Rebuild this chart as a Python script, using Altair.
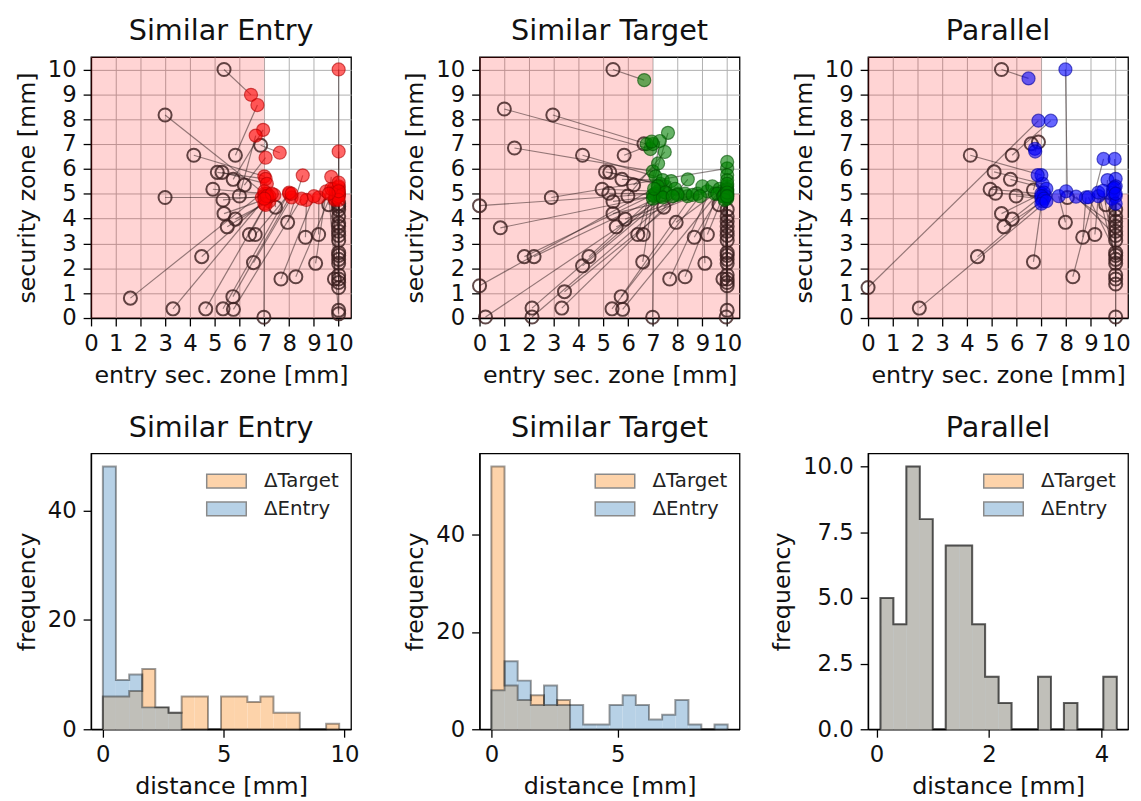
import altair as alt
import pandas as pd

FONT = "DejaVu Sans"

# ---------------- top row: security zones (original -> optimised) ----------------
AX_MAX = 10.5
ENTRY_LIMIT = 7.0
SEC_LIMIT = 5.0
GRID_TICKS = [0, 1, 2, 3, 4, 5, 6, 7, 8, 9, 10]

SE_orig_x = [5.37, 5.83, 2.99, 4.15, 2.99, 5.10, 5.29, 5.74, 6.19, 4.92, 5.33, 5.99, 5.37, 5.83, 5.50, 6.40, 6.63, 7.45, 7.94, 4.47,
             6.56, 8.66, 9.19, 9.07, 7.67, 8.27, 1.59, 3.31, 4.63, 5.33, 5.75, 5.73, 6.98, 9.60, 6.85, 9.83,
             10.0, 10.0, 10.0, 10.0, 10.0, 10.0, 10.0, 10.0, 10.0, 10.0, 10.0, 10.0, 10.0, 10.0, 10.0, 10.0, 10.0, 10.0, 10.0]
SE_orig_y = [10.0, 6.55, 8.17, 6.55, 4.85, 5.86, 5.86, 5.58, 5.35, 5.18, 4.75, 4.91, 4.20, 3.98, 3.67, 3.36, 3.36, 4.46, 3.85, 2.47,
             2.23, 3.25, 3.36, 2.20, 1.57, 1.66, 0.80, 0.37, 0.37, 0.37, 0.35, 0.86, 0.03, 4.56, 6.95, 1.57,
             4.36, 4.09, 3.82, 3.69, 3.49, 3.32, 3.12, 2.63, 2.52, 2.36, 2.20, 1.73, 1.57, 1.43, 1.23, 0.31, 0.17, 4.60, 4.50]
SE_opt_x = [6.46, 6.72, 7.00, 7.00, 6.90, 7.05, 7.10, 6.95, 7.05, 7.10, 7.00, 6.65, 7.10, 7.20, 7.00, 7.05, 8.00, 7.40, 8.55, 7.20,
            8.10, 8.70, 9.20, 9.50, 9.00, 9.80, 7.00, 7.10, 7.30, 8.00, 8.50, 8.10, 7.00, 9.70, 7.62, 9.85,
            10.0, 9.90, 10.0, 10.0, 9.85, 10.0, 10.0, 10.0, 9.90, 10.0, 10.0, 10.0, 9.70, 10.0, 10.0, 10.0, 9.60, 10.0, 10.0]
SE_opt_y = [8.98, 8.57, 5.00, 5.70, 4.85, 5.60, 5.40, 7.57, 6.45, 5.00, 4.90, 7.34, 4.80, 4.70, 4.60, 4.55, 5.00, 4.95, 5.74, 4.90,
            4.85, 4.75, 4.85, 5.10, 4.90, 5.20, 5.10, 4.90, 5.00, 5.05, 4.80, 5.00, 4.80, 5.68, 6.65, 4.75,
            5.00, 5.10, 4.90, 5.25, 4.80, 5.05, 4.95, 5.15, 4.85, 5.30, 5.00, 4.90, 5.20, 5.45, 4.75, 5.10, 5.00, 10.0, 6.70]

ST_orig_x = [5.39, 1.00, 2.96, 1.41, 4.16, 5.84, 5.09, 5.26, 5.75, 6.22, 4.95, 2.90, 0.00, 5.22, 5.39, 5.99, 5.39, 5.88, 5.52, 6.39,
             6.61, 0.84, 7.44, 7.94, 8.67, 9.20, 1.81, 2.20, 4.42, 4.16, 6.59, 9.10, 7.68, 8.30, 0.00, 3.43, 5.72, 2.12, 3.32, 5.35,
             5.78, 0.24, 6.99, 2.12, 9.67, 9.96, 6.64, 9.83,
             10.0, 10.0, 10.0, 10.0, 10.0, 10.0, 10.0, 10.0, 10.0, 10.0, 10.0, 10.0, 10.0, 10.0, 10.0, 10.0]
ST_orig_y = [10.0, 8.41, 8.17, 6.84, 6.55, 6.55, 5.88, 5.86, 5.58, 5.35, 5.18, 4.85, 4.52, 5.02, 4.69, 4.91, 4.20, 3.98, 3.67, 3.36,
             3.36, 3.63, 4.46, 3.85, 3.25, 3.36, 2.47, 2.47, 2.47, 2.10, 2.26, 2.20, 1.57, 1.66, 1.30, 1.06, 0.86, 0.40, 0.40, 0.37,
             0.35, 0.04, 0.03, 0.04, 4.56, 0.04, 7.01, 1.57,
             4.36, 4.09, 3.89, 3.69, 3.49, 3.32, 3.12, 2.63, 2.52, 2.36, 2.20, 1.73, 1.57, 1.43, 1.30, 0.31]
ST_opt_x = [6.65, 6.90, 6.75, 7.00, 7.10, 7.00, 7.30, 7.50, 7.40, 7.21, 7.20, 10.0, 7.10, 7.60, 8.00, 7.48, 8.40, 8.80, 9.20, 7.61,
            7.28, 7.05, 8.41, 9.50, 9.80, 10.0, 7.00, 7.30, 7.74, 7.90, 7.00, 9.00, 9.40, 9.70, 7.20, 8.30, 8.60, 7.50, 8.00, 8.90,
            9.60, 7.40, 7.05, 7.80, 10.0, 10.0, 6.95, 9.85,
            10.0, 10.0, 10.0, 10.0, 10.0, 10.0, 10.0, 9.90, 10.0, 10.0, 10.0, 9.85, 10.0, 9.90, 10.0, 10.0]
ST_opt_y = [9.57, 6.80, 7.00, 5.90, 5.70, 7.00, 5.40, 5.30, 5.55, 6.22, 5.10, 6.02, 5.00, 5.00, 5.00, 6.68, 4.90, 5.00, 5.10, 7.45,
            7.12, 4.90, 5.58, 5.00, 5.10, 5.30, 4.95, 4.90, 5.51, 5.20, 4.80, 5.30, 5.30, 5.20, 5.30, 5.00, 4.95, 5.05, 4.95, 4.90,
            5.00, 4.85, 5.20, 4.90, 6.28, 5.00, 7.10, 4.90,
            5.75, 5.55, 5.20, 5.00, 4.90, 5.10, 4.80, 5.00, 5.15, 4.95, 4.85, 4.90, 5.40, 4.75, 5.05, 4.90]

PA_orig_x = [5.39, 0.00, 5.82, 6.59, 6.88, 4.13, 5.09, 5.75, 4.93, 5.15, 5.98, 6.68, 5.39, 5.82, 5.49, 4.42, 6.68, 7.97, 8.05, 8.67,
             9.16, 8.27, 2.07, 9.60,
             10.0, 10.0, 10.0, 10.0, 10.0, 10.0, 10.0, 10.0, 10.0, 10.0, 10.0, 10.0, 10.0, 10.0, 10.0]
PA_orig_y = [10.0, 1.23, 6.55, 7.01, 7.08, 6.55, 5.88, 5.58, 5.18, 5.02, 4.91, 5.15, 4.20, 3.98, 3.67, 2.47, 2.26, 3.85, 4.85, 3.25,
             3.36, 1.66, 0.40, 4.56,
             4.36, 4.09, 3.89, 3.69, 3.49, 3.32, 3.12, 2.63, 2.52, 2.36, 2.20, 1.73, 1.57, 1.37, 0.04]
PA_opt_x = [6.48, 6.88, 7.38, 6.74, 6.75, 7.00, 7.05, 7.20, 7.00, 7.15, 7.00, 6.85, 7.10, 7.00, 7.05, 7.10, 7.00, 7.70, 7.97, 8.80,
            9.30, 9.51, 7.20, 9.67,
            9.96, 10.0, 10.0, 8.00, 10.0, 8.40, 9.90, 8.90, 9.85, 9.30, 9.50, 9.90, 10.0, 9.95, 10.0]
PA_opt_y = [9.64, 7.94, 7.94, 6.81, 6.70, 5.75, 5.40, 5.20, 5.00, 4.90, 4.80, 5.75, 5.05, 4.90, 4.70, 4.80, 4.60, 4.90, 10.0, 4.85,
            4.90, 6.40, 4.70, 5.55,
            6.40, 5.60, 5.30, 5.10, 4.90, 4.88, 5.20, 4.86, 4.80, 5.05, 5.12, 5.05, 4.60, 5.25, 5.00]

# ---------------- bottom row: histograms ----------------
SERIES = ["\u0394Target", "\u0394Entry"]

SE_edges = [0.00, 0.54, 1.09, 1.63, 2.17, 2.72, 3.26, 3.80, 4.35, 4.89, 5.43, 5.98, 6.52, 7.06, 7.61, 8.15, 8.69, 9.24, 9.78]
SE_target = [6, 6, 7, 11, 4, 3, 6, 6, 0, 6, 6, 5, 6, 3, 3, 0, 0, 1]
SE_entry = [48, 9, 10, 4, 4, 3, 0, 0, 0, 0, 0, 0, 0, 0, 0, 0, 0, 0]

ST_edges = [0.00, 0.52, 1.04, 1.56, 2.08, 2.60, 3.11, 3.63, 4.15, 4.67, 5.19, 5.71, 6.23, 6.75, 7.27, 7.79, 8.30, 8.82, 9.34]
ST_target = [54, 9, 6, 7, 5, 6, 0, 0, 0, 0, 0, 0, 0, 0, 0, 0, 0, 0]
ST_entry = [8, 14, 10, 5, 9, 5, 5, 1, 1, 5, 7, 5, 2, 3, 6, 1, 0, 1]

PA_edges = [0.07, 0.30, 0.53, 0.77, 1.00, 1.23, 1.47, 1.70, 1.93, 2.17, 2.40, 2.63, 2.87, 3.10, 3.33, 3.57, 3.80, 4.03, 4.27]
PA_target = [5, 4, 10, 8, 0, 7, 7, 4, 2, 1, 0, 0, 2, 0, 1, 0, 0, 2]
PA_entry = [5, 4, 10, 8, 0, 7, 7, 4, 2, 1, 0, 0, 2, 0, 1, 0, 0, 2]

ORANGE = "#fdd3aa"
BLUE = "#b7d1e6"
GREY = "#c0bfb9"
PINK = "#ff0000"

W, H_TOP, H_BOT = 263, 264, 279
LEGEND_PATH = "M-1.333,-0.467L1.333,-0.467L1.333,0.467L-1.333,0.467Z"


def scatter_panel(title, ox, oy, px, py, color, edge):
    pairs = pd.DataFrame({"x0": ox, "y0": oy, "x1": px, "y1": py})
    zone = pd.DataFrame({"zx": [0, ENTRY_LIMIT], "zx2": [ENTRY_LIMIT, AX_MAX],
                         "zy": [0, 0], "zy2": [AX_MAX, SEC_LIMIT]})
    xs = alt.Scale(domain=[0, AX_MAX], nice=False, zero=False)
    ys = alt.Scale(domain=[0, AX_MAX], nice=False, zero=False)
    xa = alt.Axis(values=GRID_TICKS, title="entry sec. zone [mm]", grid=True, labelOverlap=False,
                  labelFlush=False, format="d")
    ya = alt.Axis(values=GRID_TICKS, title="security zone [mm]", grid=True, labelOverlap=False,
                  labelFlush=False, format="d")
    bg = alt.Chart(zone).mark_rect(color=PINK, opacity=0.17).encode(
        x=alt.X("zx:Q", scale=xs, axis=xa), x2="zx2:Q",
        y=alt.Y("zy:Q", scale=ys, axis=ya), y2="zy2:Q")
    lines = alt.Chart(pairs).mark_rule(color="#2a1a1a", opacity=0.5, strokeWidth=1.2).encode(
        x=alt.X("x0:Q", scale=xs, axis=xa), y=alt.Y("y0:Q", scale=ys, axis=ya),
        x2="x1:Q", y2="y1:Q")
    orig = alt.Chart(pairs).mark_point(shape="circle", filled=False, size=175, strokeWidth=2,
                                       color="#3a1e1e", opacity=0.8).encode(
        x=alt.X("x0:Q", scale=xs, axis=xa), y=alt.Y("y0:Q", scale=ys, axis=ya))
    opt = alt.Chart(pairs).mark_point(shape="circle", filled=True, size=175, fill=color, fillOpacity=0.6,
                                      stroke=edge, strokeOpacity=0.6, strokeWidth=1.2).encode(
        x=alt.X("x1:Q", scale=xs, axis=xa), y=alt.Y("y1:Q", scale=ys, axis=ya))
    return alt.layer(bg, lines, orig, opt).properties(width=W, height=H_TOP, title=title)


def hist_panel(title, edges, target, entry, xdom, xticks, ymax, yticks, yfmt):
    bar_rows, line_rows = [], []
    for name, counts in zip(SERIES, (target, entry)):
        for i, c in enumerate(counts):
            bar_rows.append({"series": name, "b0": edges[i], "b1": edges[i + 1], "count": c})
        pts = [(edges[0], 0)] + [(edges[i], c) for i, c in enumerate(counts)] + \
              [(edges[-1], counts[-1]), (edges[-1], 0)]
        for k, (xv, yv) in enumerate(pts):
            line_rows.append({"series": name, "idx": k, "b0": xv, "count": yv})
    bars = pd.DataFrame(bar_rows)
    overlap = pd.DataFrame({"b0": edges[:-1], "b1": edges[1:],
                            "count": [min(a, b) for a, b in zip(target, entry)]})
    outline = pd.DataFrame(line_rows)

    xs = alt.Scale(domain=xdom, nice=False, zero=False)
    ys = alt.Scale(domain=[0, ymax], nice=False)
    xa = alt.Axis(values=xticks, title="distance [mm]", grid=False, labelFlush=False, labelOverlap=False)
    ya = alt.Axis(values=yticks, title="frequency", grid=False, format=yfmt, labelFlush=False,
                  labelOverlap=False)
    legend = alt.Legend(orient="top-right", title=None, symbolType=LEGEND_PATH, symbolSize=900,
                        labelFontSize=20, labelOffset=22, rowPadding=1, offset=12, padding=0,
                        symbolStrokeColor="#8a8a8a", symbolStrokeWidth=1.5, symbolOpacity=1,
                        labelFont=FONT, labelColor="#222222")
    fills = alt.Chart(bars).mark_rect().encode(
        x=alt.X("b0:Q", scale=xs, axis=xa), x2="b1:Q",
        y=alt.Y("count:Q", scale=ys, axis=ya), y2=alt.datum(0),
        color=alt.Color("series:N", scale=alt.Scale(domain=SERIES, range=[ORANGE, BLUE]), legend=legend))
    grey = alt.Chart(overlap).mark_rect(color=GREY).encode(
        x=alt.X("b0:Q", scale=xs, axis=xa), x2="b1:Q",
        y=alt.Y("count:Q", scale=ys, axis=ya), y2=alt.datum(0))
    edge = alt.Chart(outline).mark_line(interpolate="step-after", color="#000000", opacity=0.38,
                                        strokeWidth=2).encode(
        x=alt.X("b0:Q", scale=xs, axis=xa), y=alt.Y("count:Q", scale=ys, axis=ya),
        detail="series:N", order="idx:Q")
    return alt.layer(fills, grey, edge).properties(width=W, height=H_BOT, title=title)


top1 = scatter_panel("Similar Entry", SE_orig_x, SE_orig_y, SE_opt_x, SE_opt_y, "#ff0000", "#b00000")
top2 = scatter_panel("Similar Target", ST_orig_x, ST_orig_y, ST_opt_x, ST_opt_y, "#008000", "#005000")
top3 = scatter_panel("Parallel", PA_orig_x, PA_orig_y, PA_opt_x, PA_opt_y, "#0000ff", "#0000a0")

bot1 = hist_panel("Similar Entry", SE_edges, SE_target, SE_entry, [-0.489, 10.27], [0, 5, 10], 50.4, [0, 20, 40], "d")
bot2 = hist_panel("Similar Target", ST_edges, ST_target, ST_entry, [-0.467, 9.81], [0, 5], 56.7, [0, 20, 40], "d")
bot3 = hist_panel("Parallel", PA_edges, PA_target, PA_entry, [-0.15, 4.47], [0, 2, 4], 10.5,
                  [0, 2.5, 5, 7.5, 10], ".1f")

chart = alt.concat(top1, top2, top3, bot1, bot2, bot3, columns=3,
                   spacing={"row": 137, "column": 130}, bounds="flush").resolve_scale(
    color="independent"
).properties(
    padding={"left": 7, "top": 4, "right": 2, "bottom": 2}
).configure(
    font=FONT
).configure_view(
    stroke="black", strokeWidth=1.3
).configure_axis(
    labelFont=FONT, titleFont=FONT, labelFontSize=23, titleFontSize=24, titleFontWeight="normal",
    labelColor="#111111", titleColor="#111111", domainColor="black", tickColor="black",
    tickSize=8, labelPadding=7, titlePadding=8, domainWidth=1.3, tickWidth=1.3,
    gridColor="#b0b0b0", gridWidth=1, gridOpacity=1
).configure_title(
    font=FONT, fontSize=29, fontWeight="normal", offset=11, anchor="middle", color="#111111"
)

chart.save("out.html", embed_options={"renderer": "svg", "actions": False})
